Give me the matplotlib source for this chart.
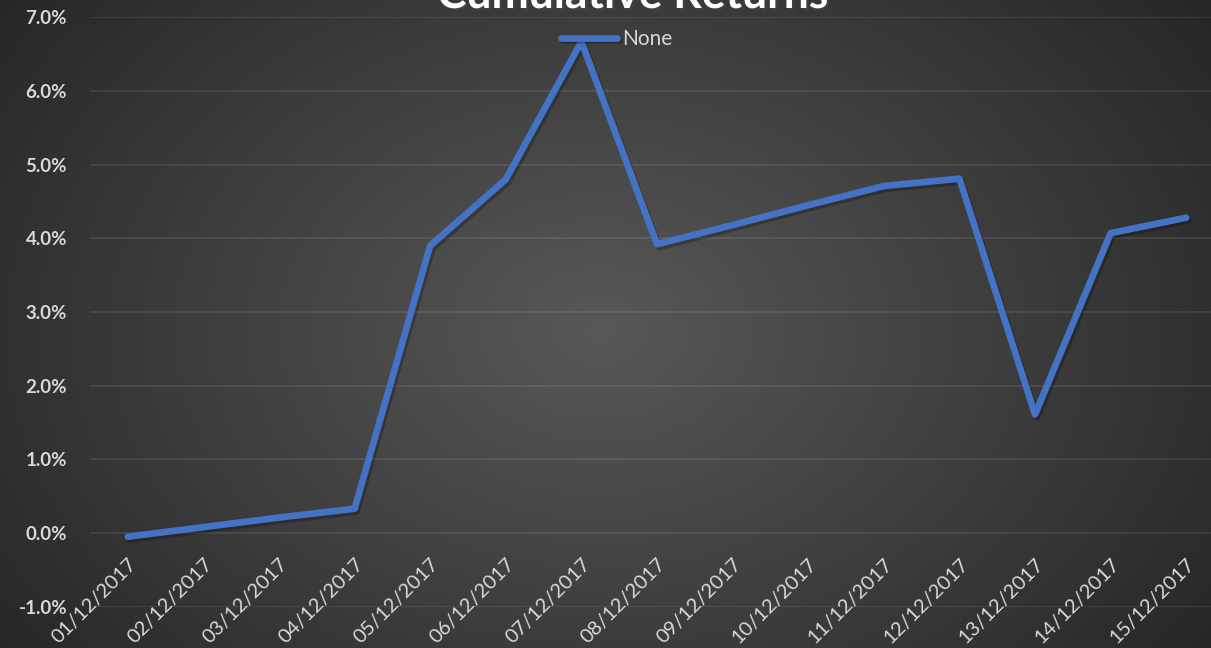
import numpy as np
import matplotlib
matplotlib.use("Agg")
import matplotlib.pyplot as plt
import matplotlib.patheffects as pe
from matplotlib.ticker import FuncFormatter

# DATA ==============================================================
dates = ['01/12/2017', '02/12/2017', '03/12/2017', '04/12/2017', '05/12/2017',
         '06/12/2017', '07/12/2017', '08/12/2017', '09/12/2017', '10/12/2017',
         '11/12/2017', '12/12/2017', '13/12/2017', '14/12/2017', '15/12/2017']
cum_returns = [-0.0005, 0.0008, 0.0021, 0.0033, 0.0390,
               0.0480, 0.0667, 0.0392, 0.0418, 0.0445,
               0.0471, 0.0481, 0.0161, 0.0407, 0.0428]
y_ticks = [-0.01, 0.0, 0.01, 0.02, 0.03, 0.04, 0.05, 0.06, 0.07]

# FIGURE ============================================================
W, H = 1211, 648
fig = plt.figure(figsize=(W / 100, H / 100), dpi=100)

# radial dark gradient background
bg = fig.add_axes([0, 0, 1, 1], zorder=0)
yy, xx = np.mgrid[0:H, 0:W]
r = np.sqrt(((xx - 600) / 760.0) ** 2 + ((yy - 330) / 560.0) ** 2)
r = np.clip(r, 0, 1)
shade = (88 - 50 * r) / 255.0
bg.imshow(np.dstack([shade, shade, shade]), aspect='auto', extent=[0, 1, 0, 1])
bg.axis('off')

# plot area extends past the right edge, like the original
left, right = 90 / W, 1224 / W
bottom, top = (H - 606.7) / H, (H - 17.3) / H
ax = fig.add_axes([left, bottom, right - left, top - bottom], zorder=1)
ax.patch.set_alpha(0)

x = np.arange(len(dates))
line, = ax.plot(x, cum_returns, color='#4472C4', lw=4.8, label='None',
                solid_joinstyle='round', solid_capstyle='round', clip_on=False,
                path_effects=[pe.SimpleLineShadow(offset=(1.5, -2), alpha=0.25, shadow_color='black'),
                              pe.Normal()])

ax.set_xlim(-0.5, len(dates) - 0.5)
ax.set_ylim(-0.01, 0.07)
ax.set_yticks(y_ticks)
ax.yaxis.set_major_formatter(FuncFormatter(lambda v, p: '%.1f%%' % (v * 100)))
ax.set_xticks(x)
ax.set_xticklabels(dates)

# category axis crosses at 0%, so the date labels hang from that line
ax.spines['bottom'].set_position(('data', 0))

ax.grid(axis='y', color='white', alpha=0.1, lw=1.2)
ax.grid(axis='x', visible=False)
for s in ax.spines.values():
    s.set_visible(False)
ax.tick_params(length=0)
ax.tick_params(axis='y', pad=16.5)
ax.tick_params(axis='x', pad=16)

for lab in ax.get_yticklabels():
    lab.set_fontfamily('Lato')
    lab.set_fontweight('bold')
    lab.set_fontsize(13.5)
    lab.set_color('#d9d9d9')
for lab in ax.get_xticklabels():
    lab.set_fontfamily('Lato')
    lab.set_fontsize(14.5)
    lab.set_color('#d9d9d9')
    lab.set_rotation(45)
    lab.set_ha('right')
    lab.set_va('top')
    lab.set_rotation_mode('anchor')

# title, cut off at the top as in the original
fig.text(633 / W, (H - 8) / H, 'Cumulative Returns', ha='center', va='baseline',
         fontsize=32, fontweight='bold', color='white', family='Lato',
         path_effects=[pe.withSimplePatchShadow(offset=(1.5, -1.5), alpha=0.4)])

leg = fig.legend(handles=[line], loc='center', bbox_to_anchor=(617 / W, (H - 39) / H),
                 frameon=False, handlelength=2.7, handletextpad=0.25,
                 prop={'family': 'Lato', 'size': 15})
for t in leg.get_texts():
    t.set_color('#d9d9d9')

fig.savefig('out.png', dpi=100)
